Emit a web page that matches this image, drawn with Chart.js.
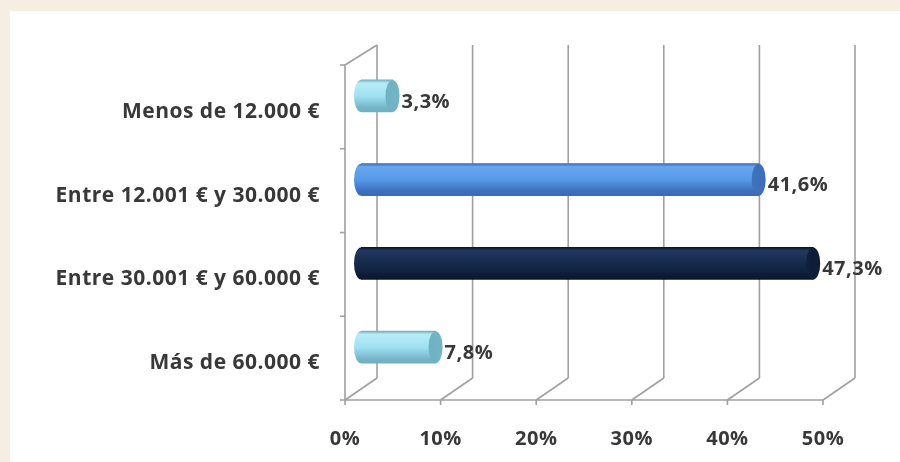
<!DOCTYPE html>
<html>
<head>
<meta charset="utf-8">
<script src="https://cdn.jsdelivr.net/npm/chart.js@4.4.1/dist/chart.umd.min.js"></script>
<style>
  html, body { margin: 0; padding: 0; background: #f6eee2; }
  #wrap { width: 900px; height: 462px; }
</style>
</head>
<body>
<div id="wrap"><canvas id="incomeChart" width="900" height="462"></canvas></div>
<script>
// Data
const categories = ['Menos de 12.000 €', 'Entre 12.001 € y 30.000 €', 'Entre 30.001 € y 60.000 €', 'Más de 60.000 €'];
const shares = [3.3, 41.6, 47.3, 7.8];
const xTicks = [0, 10, 20, 30, 40, 50];

// colours per bar: [edge, top, middle, bottom, cap]
const barShades = [
    ['#74aebf', '#b8ecf8', '#9fe1f2', '#73b5c7', '#6eb1c3'],
    ['#3a6cb5', '#69a7ef', '#5699e8', '#3b6dbb', '#4072bc'],
    ['#0a162d', '#22385f', '#152a4b', '#0d1c36', '#0f203d'],
    ['#74aebf', '#b8ecf8', '#9fe1f2', '#73b5c7', '#6eb1c3']
];

// 3D depth offsets (bars sit in the middle plane)
const depthX = 16;
const depthY = 11;
const lineColor = '#a0a0a0';
const textColor = '#383838';
const fontFamily = '"Open Sans"';

function bodyGradient(ctx, top, bottom, shades) {
    const g = ctx.createLinearGradient(0, top, 0, bottom);
    g.addColorStop(0, shades[0]);
    g.addColorStop(0.1, shades[1]);
    g.addColorStop(0.5, shades[2]);
    g.addColorStop(0.88, shades[3]);
    g.addColorStop(1, shades[0]);
    return g;
}

// panel background + slight letter spacing
const backdrop = {
    id: 'backdrop',
    beforeDraw(chart) {
        const ctx = chart.ctx;
        ctx.letterSpacing = '0.5px';
        ctx.save();
        ctx.fillStyle = '#f6eee2';
        ctx.fillRect(0, 0, chart.width, chart.height);
        ctx.fillStyle = '#ffffff';
        ctx.fillRect(10, 11, chart.width - 10, chart.height - 11);
        ctx.restore();
    }
};

// walls, floor and gridlines
const walls = {
    id: 'walls',
    beforeDatasetsDraw(chart) {
        const ctx = chart.ctx;
        const x = chart.scales.x;
        const area = chart.chartArea;
        const frontTop = area.top + depthY, frontBottom = area.bottom + depthY;
        const backTop = area.top - depthY + 2, backBottom = area.bottom - depthY;
        ctx.save();
        ctx.strokeStyle = lineColor;
        ctx.lineWidth = 1.6;
        xTicks.forEach(v => {
            const px = x.getPixelForValue(v);
            // back gridline
            ctx.beginPath();
            ctx.moveTo(px + depthX, backTop);
            ctx.lineTo(px + depthX, backBottom);
            ctx.stroke();
            // floor diagonal
            ctx.beginPath();
            ctx.moveTo(px - depthX, frontBottom);
            ctx.lineTo(px + depthX, backBottom);
            ctx.stroke();
            // tick mark
            ctx.beginPath();
            ctx.moveTo(px - depthX, frontBottom);
            ctx.lineTo(px - depthX, frontBottom + 5);
            ctx.stroke();
        });
        const left = x.getPixelForValue(xTicks[0]) - depthX;
        const right = x.getPixelForValue(xTicks[xTicks.length - 1]) - depthX;
        // front floor edge
        ctx.beginPath();
        ctx.moveTo(left, frontBottom);
        ctx.lineTo(right, frontBottom);
        ctx.stroke();
        // left wall front edge + top diagonal
        ctx.beginPath();
        ctx.moveTo(left, frontBottom);
        ctx.lineTo(left, frontTop);
        ctx.lineTo(left + 2 * depthX, backTop);
        ctx.stroke();
        // category ticks on left wall
        const step = (area.bottom - area.top) / categories.length;
        for (let i = 0; i <= categories.length; i++) {
            const py = frontTop + i * step;
            ctx.beginPath();
            ctx.moveTo(left - 5, py);
            ctx.lineTo(left, py);
            ctx.stroke();
        }
        ctx.restore();
    }
};

// cylinder ends and value labels
const cylinders = {
    id: 'cylinders',
    afterDatasetsDraw(chart) {
        const ctx = chart.ctx;
        const meta = chart.getDatasetMeta(0);
        ctx.save();
        meta.data.forEach((bar, i) => {
            const p = bar.getProps(['x', 'y', 'base', 'height'], true);
            const h = p.height / 2;
            const shades = barShades[i];
            const rx = 7;
            // left rounded end
            ctx.fillStyle = bodyGradient(ctx, p.y - h, p.y + h, shades);
            ctx.beginPath();
            ctx.ellipse(p.base, p.y, rx, h, 0, Math.PI / 2, Math.PI * 1.5);
            ctx.fill();
            // right cap face
            const cg = ctx.createLinearGradient(p.x - rx, 0, p.x + rx, 0);
            cg.addColorStop(0, shades[4]);
            cg.addColorStop(1, shades[3]);
            ctx.fillStyle = cg;
            ctx.beginPath();
            ctx.ellipse(p.x, p.y, rx, h, 0, 0, Math.PI * 2);
            ctx.fill();
            // value label
            ctx.fillStyle = textColor;
            ctx.font = 'bold 20px ' + fontFamily;
            ctx.textAlign = 'left';
            ctx.textBaseline = 'middle';
            ctx.fillText(shares[i].toFixed(1).replace('.', ',') + '%', p.x + rx + 2, p.y + 6);
        });
        ctx.restore();
    }
};

const ctx = document.getElementById('incomeChart').getContext('2d');
new Chart(ctx, {
    type: 'bar',
    data: {
        labels: categories,
        datasets: [{
            data: shares,
            barThickness: 32,
            borderWidth: 0,
            backgroundColor: function(context) {
                const chart = context.chart;
                const y = chart.scales.y;
                const shades = barShades[context.dataIndex];
                if (!chart.chartArea || !y || shades === undefined) return shades ? shades[2] : '#999';
                const yc = y.getPixelForValue(context.dataIndex);
                return bodyGradient(chart.ctx, yc - 16, yc + 16, shades);
            }
        }]
    },
    options: {
        indexAxis: 'y',
        responsive: false,
        animation: false,
        layout: { padding: { left: 0, right: 61, top: 54, bottom: 0 } },
        plugins: {
            legend: { display: false },
            tooltip: { enabled: false }
        },
        scales: {
            x: {
                min: 0,
                max: 50,
                afterBuildTicks(scale) {
                    scale.ticks = xTicks.map(v => ({ value: v }));
                },
                afterFit(scale) { scale.height = 73; },
                grid: { display: false, drawTicks: false },
                border: { display: false },
                ticks: {
                    padding: 38,
                    labelOffset: -depthX,
                    color: textColor,
                    font: { family: fontFamily, size: 20, weight: 'bold' },
                    callback: v => v + '%'
                }
            },
            y: {
                afterFit(scale) { scale.width = 361; },
                grid: { display: false, drawTicks: false },
                border: { display: false },
                ticks: {
                    padding: 41,
                    labelOffset: 16,
                    color: textColor,
                    font: { family: fontFamily, size: 21, weight: 'bold' }
                }
            }
        }
    },
    plugins: [backdrop, walls, cylinders]
});
</script>
</body>
</html>
